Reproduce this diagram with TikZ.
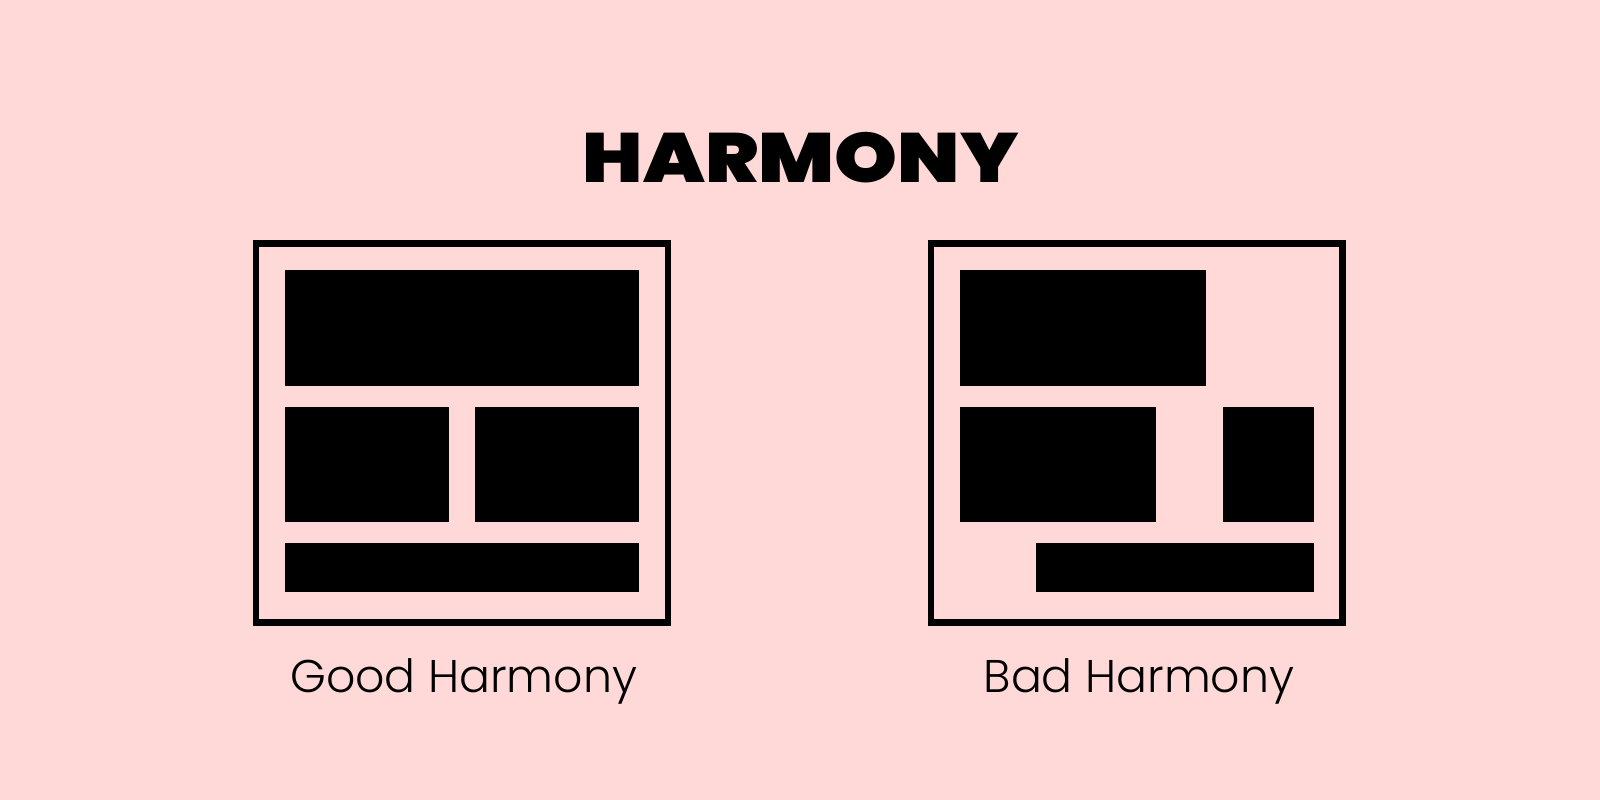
\documentclass[tikz,border=0pt]{standalone}
\usepackage{fontspec}
\usetikzlibrary{positioning}
\newfontfamily\titlefont{Poppins Black}
\newfontfamily\capfont{Poppins Light}
\definecolor{blush}{RGB}{255,217,216}

\begin{document}
\begin{tikzpicture}
		[x=0.5bp, y=-0.5bp,
		frame/.style={draw=black, line width=3.25bp, minimum width=206bp, minimum height=189.6bp, inner sep=0pt},
		block/.style={fill=black},
		caption/.style={font=\capfont\fontsize{23}{26}\selectfont, anchor=base}]
		\fill[blush] (0,0) rectangle (1600,800);
		\useasboundingbox (0,0) rectangle (1600,800);

		\node[font=\titlefont\fontsize{35}{40}\selectfont, anchor=base] (title) at (800.7,182.7) {\scalebox{1.147}[1]{HARMONY}};

		% good layout
		\node[frame] (good) at (462,432.9) {};
		\fill[block] (285,270.3) rectangle (638.7,386);
		\fill[block] (285,406.7) rectangle (449,522.3);
		\fill[block] (475,406.7) rectangle (638.7,522.3);
		\fill[block] (285,542.7) rectangle (638.7,592.3);
		\node[caption] (goodtext) at (463.7,692.3) {Good Harmony};

		% bad layout
		\node[frame, minimum width=205.85bp] (bad) at (1136.85,432.9) {};
		\fill[block] (960,270.3) rectangle (1206,386);
		\fill[block] (960,406.7) rectangle (1156.3,522.3);
		\fill[block] (1223.3,406.7) rectangle (1313.7,522.3);
		\fill[block] (1036.3,542.7) rectangle (1313.7,592.3);
		\node[caption] (badtext) at (1139,692.3) {Bad Harmony};
	\end{tikzpicture}
\end{document}
